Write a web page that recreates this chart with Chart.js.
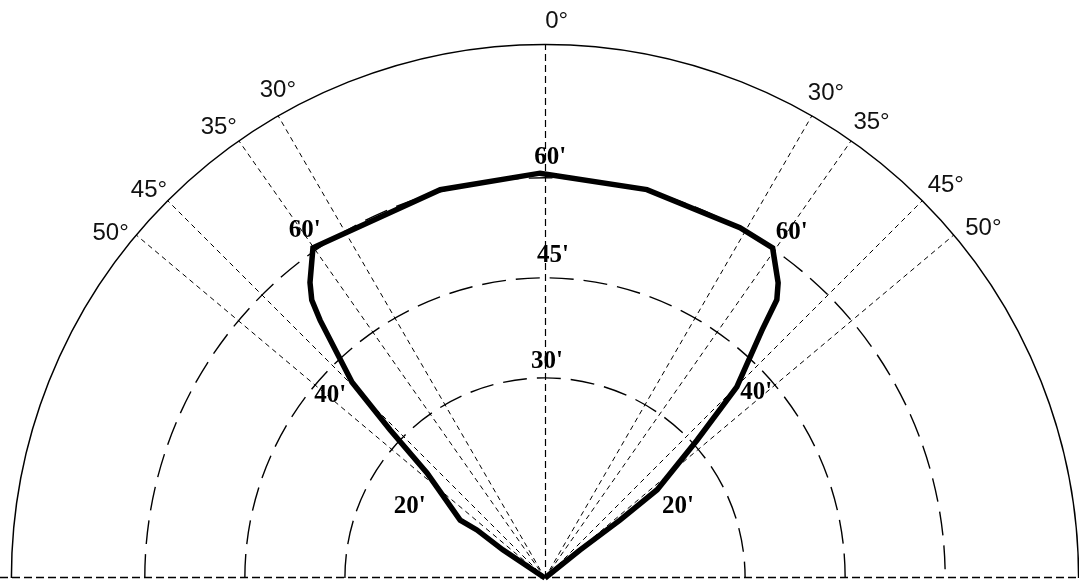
<!DOCTYPE html>
<html>
<head>
<meta charset="utf-8">
<script src="https://cdn.jsdelivr.net/npm/chart.js@4.4.1/dist/chart.umd.min.js"></script>
<style>
html,body{margin:0;padding:0;background:#fff;overflow:hidden;}
#wrap{width:1079px;height:585px;position:relative;}
</style>
</head>
<body>
<div id="wrap"><canvas id="c"></canvas></div>
<script>
// ---- data (angles in degrees from vertical, + = right; radii in arc-minutes) ----
const curveAngles = [-55, -56.3, -54.8, -55.7, -48.3, -46.3, -44.6, -41.1, -40.0, -38.5, -35.1, -15.1, -0.7, 14.7, 29.1, 34.6, 38.3, 39.8, 41.2, 45.1, 47.8, 51.8, 52.3, 51.3, 55];
const curveRadii  = [0, 7.6, 12.5, 15.4, 23.7, 32.1, 41.2, 51.3, 54.4, 56.6, 60.5, 60.3, 60.7, 60.2, 60.1, 60.1, 56.4, 54.3, 49.4, 40.6, 30.8, 21.4, 14.2, 6.7, 0];

const ringValues  = [30, 45, 60];
const outerRadius = 80;
const spokeAngles = [-50, -45, -35, -30, 30, 35, 45, 50];

const angleTickLabels = ['50°', '45°', '35°', '30°', '0°', '30°', '35°', '45°', '50°'];
const curveLabelTexts = ["60'", "45'", "30'", "60'", "60'", "40'", "40'", "20'", "20'"];

// ---- layout (label placement in polar coords, not data) ----
const angleTickPos = [[-51.6, 83.1], [-45.6, 83.1], [-35.9, 83.4], [-28.7, 83.4], [1.2, 83.5], [30.1, 84.0], [35.6, 84.1], [45.6, 84.1], [51.4, 84.1]];
const curveLabelPos = [[0.7, 63.0], [1.4, 48.3], [0.5, 32.4], [-34.7, 63.3], [35.5, 63.7], [-49.6, 42.3], [48.8, 42.1], [-62.3, 22.9], [61.9, 22.6]];

const W = 1079, H = 585, CX = 545, CY = 578, PX = 6.67;

const rad = d => d * Math.PI / 180;
const curvePoints = curveAngles.map((a, i) => ({
  x: curveRadii[i] * Math.sin(rad(a)),
  y: curveRadii[i] * Math.cos(rad(a))
}));

const polarGrid = {
  id: 'polarGrid',
  beforeDatasetsDraw(chart) {
    const { ctx, scales: { x, y } } = chart;
    const cx = x.getPixelForValue(0), cy = y.getPixelForValue(0);
    const sx = x.getPixelForValue(1) - cx, sy = cy - y.getPixelForValue(1);
    ctx.save();
    ctx.strokeStyle = '#000';
    // baseline
    ctx.lineWidth = 1.3;
    ctx.setLineDash([8, 4]);
    ctx.beginPath(); ctx.moveTo(0, cy - 0.5); ctx.lineTo(chart.width, cy - 0.5); ctx.stroke();
    // vertical 0° axis
    ctx.lineWidth = 1.2;
    ctx.setLineDash([7, 4]);
    ctx.beginPath(); ctx.moveTo(cx + 0.5, cy); ctx.lineTo(cx + 0.5, cy - outerRadius * sy); ctx.stroke();
    // spokes
    ctx.lineWidth = 1;
    ctx.setLineDash([5, 4]);
    spokeAngles.forEach(a => {
      const t = rad(a);
      ctx.beginPath();
      ctx.moveTo(cx, cy);
      ctx.lineTo(cx + outerRadius * sx * Math.sin(t), cy - outerRadius * sy * Math.cos(t));
      ctx.stroke();
    });
    // rings
    ctx.lineWidth = 1.4;
    ctx.setLineDash([24, 10]);
    ringValues.forEach(r => {
      ctx.beginPath();
      ctx.ellipse(cx, cy, r * sx, r * sy, 0, Math.PI, 2 * Math.PI);
      ctx.stroke();
    });
    // outer arc
    ctx.setLineDash([]);
    ctx.lineWidth = 1.5;
    ctx.beginPath();
    ctx.ellipse(cx, cy, outerRadius * sx, outerRadius * sy, 0, Math.PI, 2 * Math.PI);
    ctx.stroke();
    ctx.restore();
  },
  afterDatasetsDraw(chart) {
    const { ctx, scales: { x, y } } = chart;
    const P = (a, r) => [x.getPixelForValue(r * Math.sin(rad(a))), y.getPixelForValue(r * Math.cos(rad(a)))];
    ctx.save();
    ctx.textAlign = 'center';
    ctx.textBaseline = 'middle';
    ctx.fillStyle = '#111';
    ctx.font = '24px "Liberation Sans", Arial, sans-serif';
    angleTickLabels.forEach((t, i) => {
      const [px, py] = P(angleTickPos[i][0], angleTickPos[i][1]);
      ctx.fillText(t, px, py);
    });
    ctx.fillStyle = '#000';
    ctx.font = 'bold 25px "Liberation Serif", "Times New Roman", serif';
    curveLabelTexts.forEach((t, i) => {
      const [px, py] = P(curveLabelPos[i][0], curveLabelPos[i][1]);
      ctx.fillText(t, px, py);
    });
    ctx.restore();
  }
};

new Chart(document.getElementById('c'), {
  type: 'scatter',
  data: {
    datasets: [{
      data: curvePoints,
      showLine: true,
      borderColor: '#000',
      borderWidth: 5.5,
      pointRadius: 0,
      tension: 0,
      fill: false
    }]
  },
  options: {
    responsive: true,
    maintainAspectRatio: false,
    animation: false,
    layout: { padding: 0 },
    plugins: { legend: { display: false }, tooltip: { enabled: false } },
    scales: {
      x: { type: 'linear', display: false, min: -CX / PX, max: (W - CX) / PX },
      y: { type: 'linear', display: false, min: -(H - CY) / PX, max: CY / PX }
    }
  },
  plugins: [polarGrid]
});
</script>
</body>
</html>
